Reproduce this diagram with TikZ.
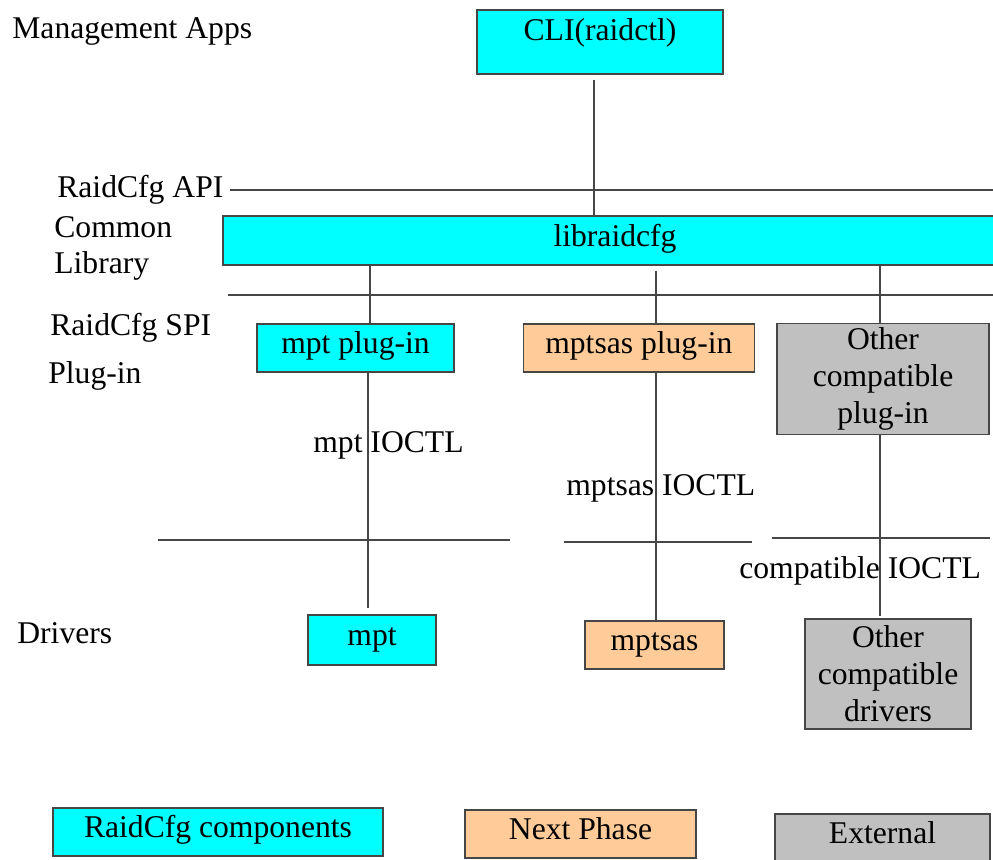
\documentclass[tikz,border=0pt]{standalone}
\usepackage{fontspec}
\setmainfont{Liberation Serif}
\usepackage{tikz}
\usetikzlibrary{positioning}
\usepackage{xcolor}
\definecolor{rcfgcyan}{RGB}{0,255,255}
\definecolor{rcfgorange}{RGB}{255,204,153}
\definecolor{rcfggray}{RGB}{192,192,192}
\definecolor{rcfgline}{RGB}{70,70,70}
\tikzstyle{comp} = [rectangle, draw=rcfgline, fill=rcfgcyan, line width=0.8pt, inner sep=0pt, text=black]
\tikzstyle{oneline} = [text height=12pt, text depth=5.6pt]
\tikzstyle{nextphase} = [comp, fill=rcfgorange]
\tikzstyle{external} = [comp, fill=rcfggray]
\tikzstyle{layer} = [anchor=base west, inner sep=0pt]
\tikzstyle{link} = [draw=rcfgline, line width=0.8pt]

\begin{document}
\begin{tikzpicture}[x=0.02cm, y=-0.02cm, font=\fontsize{18}{21}\selectfont]
\useasboundingbox (0,0) rectangle (993,859);

% Layer labels
\node (mgmt) [layer] at (12,38) {Management Apps};
\node (api) [layer] at (57,197) {RaidCfg API};
\node (common) [layer] at (54,237) {Common};
\node (library) [layer] at (54,273) {Library};
\node (spi) [layer] at (50,335) {RaidCfg SPI};
\node (plugin) [layer] at (48,383) {Plug-in};
\node (drivers) [layer] at (17,643) {Drivers};

% Nodes
\node (cli) [comp, minimum width=4.92cm, minimum height=1.28cm, text height=13pt, text depth=15pt] at (600,42) {CLI(raidctl)};
\node (lib) [comp, oneline, minimum width=15.68cm, minimum height=0.98cm] at (615,240.5) {libraidcfg};
\node (mptplug) [comp, oneline, minimum width=3.94cm, minimum height=0.96cm] at (355.5,348) {mpt plug-in};
\node (sasplug) [nextphase, oneline, minimum width=4.62cm, minimum height=0.96cm, right=1.36cm of mptplug] {mptsas plug-in};
\node (otherplug) [external, align=center, minimum width=4.24cm, minimum height=2.22cm] at (883,379) {Other\\compatible\\plug-in};
\node (mpt) [comp, oneline, minimum width=2.56cm, minimum height=1cm] at (372,640) {mpt};
\node (mptsas) [nextphase, oneline, minimum width=2.78cm, minimum height=0.96cm] at (654.5,645) {mptsas};
\node (otherdrv) [external, align=center, minimum width=3.32cm, minimum height=2.2cm] at (888,674) {Other\\compatible\\drivers};

% Legend
\node (leg1) [comp, oneline, minimum width=6.6cm, minimum height=0.96cm] at (218,832) {RaidCfg components};
\node (leg2) [nextphase, oneline, minimum width=4.62cm, minimum height=0.96cm] at (580.5,834) {Next Phase};
\node (leg3) [external, oneline, minimum width=4.3cm, minimum height=0.96cm] at (882.5,838) {External};

% Interface lines
\draw[link] (230,190) -- (993,190);
\draw[link] (228,295) -- (993,295);
\draw[link] (158,540) -- (510,540);
\draw[link] (564,542) -- (752,542);
\draw[link] (772,538) -- (990,538);

% Columns
\coordinate (colcli) at (594,0);
\coordinate (colmpt) at (370,0);
\coordinate (colmpt2) at (368,0);
\coordinate (colsas) at (656,0);
\coordinate (colext) at (880,0);

% Connectors
\draw[link] ([yshift=-0.1cm]colcli |- cli.south) -- (colcli |- lib.north);
\draw[link] (colmpt |- lib.south) -- (colmpt |- mptplug.north);
\draw[link] (colmpt2 |- mptplug.south) -- ([yshift=0.12cm]colmpt2 |- mpt.north);
\draw[link] ([yshift=-0.1cm]colsas |- lib.south) -- (colsas |- sasplug.north);
\draw[link] (colsas |- sasplug.south) -- (colsas |- mptsas.north);
\draw[link] (colext |- lib.south) -- (colext |- otherplug.north);
\draw[link] (colext |- otherplug.south) -- ([yshift=0.04cm]colext |- otherdrv.north);

% IOCTL labels
\node (mptioctl) [layer] at (313,452) {mpt IOCTL};
\node (sasioctl) [layer] at (566,495) {mptsas IOCTL};
\node (extioctl) [layer] at (739,578) {compatible IOCTL};
\end{tikzpicture}
\end{document}
